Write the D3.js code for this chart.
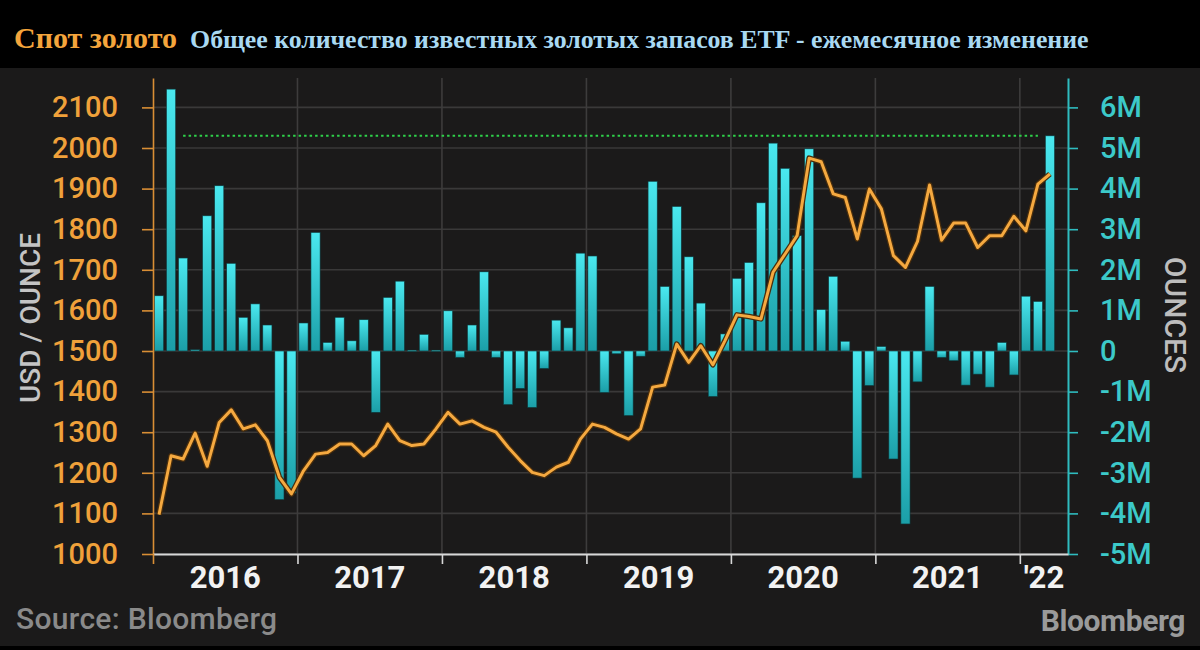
<!DOCTYPE html>
<html><head><meta charset="utf-8">
<script src="https://cdn.jsdelivr.net/npm/d3@7"></script>
<style>body{margin:0;background:#000;} svg{display:block}</style>
</head><body><svg id="c" width="1200" height="650"></svg>
<script>
// Monthly change in known gold ETF holdings (million ounces), Jan 2016 .. Mar 2022
const flows = [1.36, 6.45, 2.29, 0.03, 3.33, 4.07, 2.16, 0.83, 1.16, 0.64, -3.66, -3.5,
  0.69, 2.92, 0.21, 0.83, 0.25, 0.77, -1.51, 1.32, 1.72, 0.02, 0.41, 0.02,
  0.99, -0.16, 0.64, 1.95, -0.16, -1.32, -0.92, -1.39, -0.43, 0.76, 0.57, 2.41,
  2.34, -1.02, -0.07, -1.59, -0.13, 4.18, 1.59, 3.56, 2.32, 1.18, -1.12, 0.42,
  1.79, 2.18, 3.65, 5.12, 4.5, 2.84, 4.98, 1.02, 1.84, 0.24, -3.13, -0.85,
  0.11, -2.66, -4.26, -0.76, 1.59, -0.16, -0.24, -0.84, -0.57, -0.89, 0.21, -0.59,
  1.35, 1.22, 5.3];
// Spot gold, USD/oz (month-end), Jan 2016 .. Mar 2022
const gold = [1097, 1242, 1234, 1298, 1216, 1324, 1355, 1308, 1318, 1279, 1189, 1148,
  1205, 1246, 1250, 1271, 1271, 1242, 1267, 1320, 1279, 1267, 1271, 1308,
  1349, 1320, 1328, 1312, 1300, 1263, 1230, 1201, 1193, 1214, 1226, 1283,
  1320, 1312, 1296, 1283, 1308, 1411, 1416, 1517, 1472, 1513, 1466, 1525,
  1589, 1585, 1579, 1694, 1739, 1784, 1975, 1966, 1887, 1878, 1776, 1899,
  1850, 1735, 1706, 1770, 1909, 1773, 1815, 1815, 1755, 1784, 1784, 1832,
  1796, 1911, 1936];
const yearLabels = ["2016", "2017", "2018", "2019", "2020", "2021", "'22"];
const goldTicks = [1000, 1100, 1200, 1300, 1400, 1500, 1600, 1700, 1800, 1900, 2000, 2100];
const flowTicks = [-5, -4, -3, -2, -1, 0, 1, 2, 3, 4, 5, 6];
const refLevel = 5.3;          // dotted reference level (million oz)
const refSpan = [2, 73];       // month indices the reference line spans

const months = d3.timeMonth.range(new Date(2016, 0, 1), new Date(2022, 4, 1)); // 76 slots

const svg = d3.select("#c");
svg.append("rect").attr("width", 1200).attr("height", 650).attr("fill", "#000");
svg.append("rect").attr("y", 68).attr("width", 1200).attr("height", 578).attr("fill", "#1b1a1a");

const L = 153, R = 1068, B = 554, T = 78;
const xi = d3.scaleLinear().domain([0, months.length]).range([L, R]);
const x = d3.scaleBand().domain(d3.range(months.length)).range([L, R]).paddingInner(0.24).paddingOuter(0.12);
const yL = d3.scaleLinear().domain([1000, 2172.4]).range([B, T]);
const yR = d3.scaleLinear().domain([-5, 6.724]).range([B, T]);

// gradient
const defs = svg.append("defs");
const g = defs.append("linearGradient").attr("id", "barg").attr("x1", 0).attr("y1", 0).attr("x2", 0).attr("y2", 1);
g.append("stop").attr("offset", "0%").attr("stop-color", "#4ae8ef");
g.append("stop").attr("offset", "100%").attr("stop-color", "#1b9ea7");

// grid
svg.append("g").selectAll("line").data(goldTicks).join("line")
  .attr("x1", L).attr("x2", R).attr("y1", d => yL(d)).attr("y2", d => yL(d))
  .attr("stroke", "#3a3939").attr("stroke-width", 1.6);
const yearIdx = d3.range(0, months.length, 12);
svg.append("g").selectAll("line").data(yearIdx.slice(1)).join("line")
  .attr("x1", d => xi(d)).attr("x2", d => xi(d)).attr("y1", T).attr("y2", B)
  .attr("stroke", "#3d3c3c").attr("stroke-width", 1.6);

// bars
svg.append("g").selectAll("rect").data(flows).join("rect")
  .attr("x", (d, i) => x(i)).attr("width", x.bandwidth())
  .attr("y", d => yR(Math.max(0, d)))
  .attr("height", d => Math.max(1.2, Math.abs(yR(d) - yR(0))))
  .attr("fill", "url(#barg)").attr("stroke", "#0d3a3d").attr("stroke-width", 0.6);

// reference dotted line
svg.append("line")
  .attr("x1", x(refSpan[0]) + x.bandwidth() / 2).attr("x2", x(refSpan[1]) + x.bandwidth() / 2)
  .attr("y1", yR(refLevel)).attr("y2", yR(refLevel))
  .attr("stroke", "#2fd04a").attr("stroke-width", 2).attr("stroke-dasharray", "2.5,3");

// gold line
const line = d3.line().x((d, i) => x(i) + x.bandwidth() / 2).y(d => yL(d)).curve(d3.curveLinear);
svg.append("path").datum(gold).attr("d", line).attr("fill", "none")
  .attr("stroke", "#4a2e0c").attr("stroke-width", 5.5).attr("stroke-linejoin", "round");
svg.append("path").datum(gold).attr("d", line).attr("fill", "none")
  .attr("stroke", "#f5a940").attr("stroke-width", 3).attr("stroke-linejoin", "round");

// left axis
const ax1 = svg.append("g").attr("transform", `translate(${L},0)`)
  .call(d3.axisLeft(yL).tickValues(goldTicks).tickFormat(d3.format("d")).tickSize(11).tickPadding(24).tickSizeOuter(0));
ax1.select(".domain").attr("stroke", "#d98e35").attr("stroke-width", 1.6);
ax1.selectAll(".tick line").attr("stroke", "#d98e35").attr("stroke-width", 1.6);
ax1.selectAll("text").attr("fill", "#f0a13a").style("font-family", "Roboto").style("font-size", "29px").style("font-weight", 500);

// right axis
const ax2 = svg.append("g").attr("transform", `translate(${R},0)`)
  .call(d3.axisRight(yR).tickValues(flowTicks).tickSize(10).tickPadding(22).tickSizeOuter(0)
    .tickFormat(v => v === 0 ? "0" : (v < 0 ? "-" : "") + Math.abs(v) + "M"));
ax2.select(".domain").attr("stroke", "#2fbcbf").attr("stroke-width", 2);
ax2.selectAll(".tick line").attr("stroke", "#2fbcbf").attr("stroke-width", 1.6);
ax2.selectAll("text").attr("fill", "#3cc9c9").style("font-family", "Roboto").style("font-size", "29px").style("font-weight", 500);

// bottom axis
const ax3 = svg.append("g").attr("transform", `translate(0,${B})`)
  .call(d3.axisBottom(xi).tickValues(yearIdx).tickSize(10).tickFormat("").tickSizeOuter(0));
ax3.select(".domain").attr("stroke", "#d8d8d8").attr("stroke-width", 2);
ax3.selectAll(".tick line").attr("stroke", "#d8d8d8").attr("stroke-width", 1.6);
ax3.selectAll(".tick").filter(d => d === 0).select("line").attr("stroke", "#d98e35");

svg.append("g").selectAll("text").data(yearLabels).join("text")
  .attr("x", (d, k) => (xi(k * 12) + xi(Math.min(k * 12 + 12, months.length))) / 2)
  .attr("y", 588).attr("text-anchor", "middle")
  .attr("fill", "#f2f2f2").style("font-family", "Roboto").style("font-size", "31px").style("font-weight", 700)
  .text(d => d);

// axis titles
svg.append("text").attr("transform", "translate(40,318) rotate(-90)").attr("text-anchor", "middle")
  .attr("fill", "#c4c4c4").style("font-family", "Roboto").style("font-size", "28px").style("font-weight", 500)
  .text("USD / OUNCE");
svg.append("text").attr("transform", "translate(1165,315) rotate(90)").attr("text-anchor", "middle")
  .attr("fill", "#bdbdbd").style("font-family", "Roboto").style("font-size", "30px").style("font-weight", 500)
  .text("OUNCES");

// footer
svg.append("text").attr("x", 16).attr("y", 629).attr("fill", "#8a8a8a")
  .style("font-family", "Roboto").style("font-size", "30px").style("font-weight", 500).style("letter-spacing", "0.3px")
  .text("Source: Bloomberg");
svg.append("text").attr("x", 1185).attr("y", 631).attr("text-anchor", "end").attr("fill", "#9a9a9a")
  .style("font-family", "Roboto").style("font-size", "30px").style("font-weight", 700).style("letter-spacing", "-0.4px")
  .text("Bloomberg");

// title
const t = svg.append("text").attr("x", 14).attr("y", 48)
  .style("font-family", "'Liberation Serif', 'Times New Roman', serif").style("font-weight", 700);
t.append("tspan").attr("fill", "#f4a53c").style("font-size", "30px").text("Спот золото");
t.append("tspan").attr("fill", "#a9d9f2").style("font-size", "25.8px").attr("dx", 13)
  .text("Общее количество известных золотых запасов ETF - ежемесячное изменение");
</script>
</body></html>
